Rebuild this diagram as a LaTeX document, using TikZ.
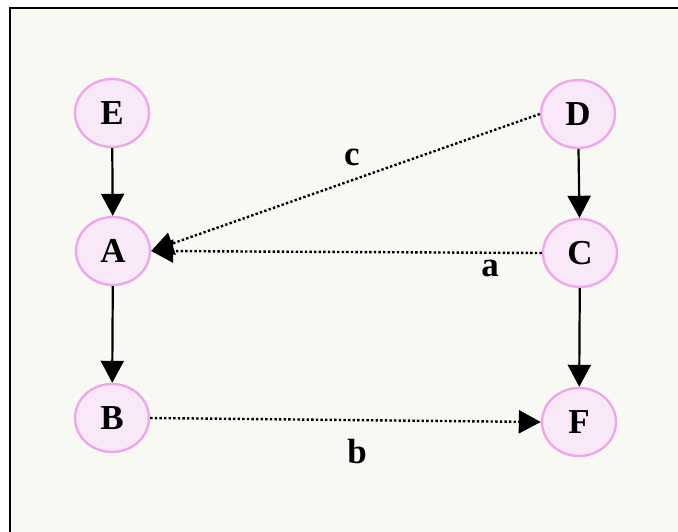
\documentclass[tikz,border=0pt]{standalone}
\usepackage{fontspec}
\setmainfont{Liberation Serif}
\usetikzlibrary{shapes.geometric,arrows.meta}
\definecolor{bgc}{HTML}{F9F9F4}
\definecolor{nfill}{HTML}{F9E8F7}
\definecolor{nline}{HTML}{EFA6EC}
\tikzset{
  vtx/.style={ellipse, draw=nline, fill=nfill, line width=2.4pt, minimum width=74pt, minimum height=68pt, inner sep=0pt, font=\fontsize{35}{35}\selectfont\bfseries},
  solidedge/.style={line width=2.2pt, -{Triangle[length=22pt,width=23pt]}},
  dotedge/.style={line width=2.4pt, dash pattern=on 2.4pt off 2.2pt, -{Triangle[length=22pt,width=23pt]}},
  lbl/.style={font=\fontsize{35}{35}\selectfont\bfseries, inner sep=0pt}
}
\begin{document}
\begin{tikzpicture}[x=1pt,y=-1pt]
\useasboundingbox (0,0) rectangle (678,531);
\begin{scope}
\clip (0,0) rectangle (678,531);
\fill[white] (0,0) rectangle (678,531);
\draw[line width=2.4pt, fill=bgc] (10,8) rectangle (700,560);
\end{scope}
\node[vtx] (E) at (112,113) {E};
\node[vtx] (A) at (113,251) {A};
\node[vtx] (B) at (112,418) {B};
\node[vtx] (D) at (578,114) {D};
\node[vtx] (C) at (580,253) {C};
\node[vtx] (F) at (579,422) {F};
\draw[solidedge] (E) -- (A);
\draw[solidedge] (A) -- (B);
\draw[solidedge] (D) -- (C);
\draw[solidedge] (C) -- (F);
\draw[dotedge] (D.west) -- (A.east);
\draw[dotedge] (C.west) -- (A.east);
\draw[dotedge] (B.east) -- (F.west);
\node[lbl] (lc) at (352,157) {c};
\node[lbl] (la) at (490,268) {a};
\node[lbl] (lb) at (357,452) {b};
\end{tikzpicture}
\end{document}
